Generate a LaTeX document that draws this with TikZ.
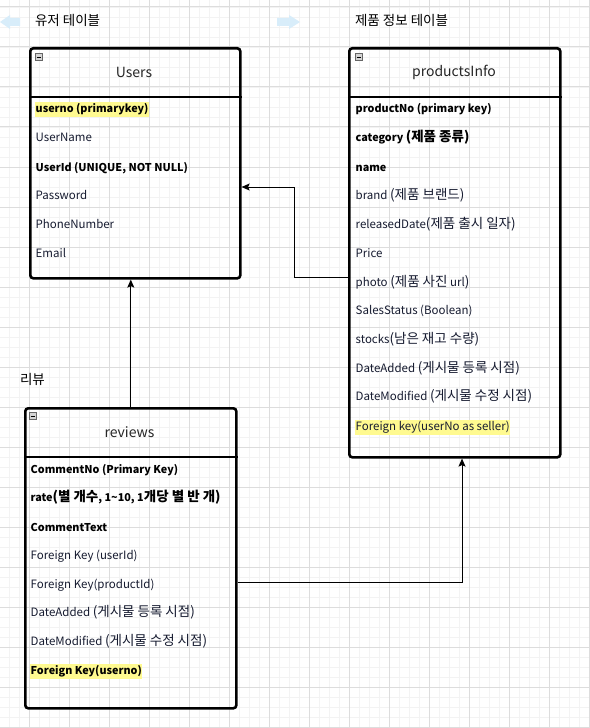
\documentclass[tikz,border=0pt]{standalone}
\usepackage{fontspec}
\setmainfont{Noto Sans CJK KR}
\usetikzlibrary{arrows.meta}
\definecolor{gridminor}{HTML}{F3F3F3}
\definecolor{gridmajor}{HTML}{DDDDDD}
\definecolor{hl}{HTML}{FFFA90}
\definecolor{rowtext}{HTML}{161B30}
\definecolor{hint}{HTML}{D8EDFA}
\definecolor{icongray}{HTML}{D4D4D4}
\newcommand\kr[1]{{\fontsize{13.5bp}{14bp}\selectfont #1}}
\tikzset{
  tbl/.style={draw=black, line width=2.6bp, rounded corners=3bp, inner sep=0pt, anchor=north west},
  sepline/.style={line width=2bp},
  rowtxt/.style={anchor=west, inner xsep=0.5bp, inner ysep=2bp, text height=8.5bp, text depth=2.5bp, font=\fontsize{11.5bp}{12bp}\selectfont, text=rowtext},
  rowbold/.style={rowtxt, font=\fontsize{10.8bp}{12bp}\selectfont\bfseries, text=black},
  hlrow/.style={fill=hl},
  title/.style={font=\fontsize{14bp}{15bp}\selectfont, text=black!85},
  caption/.style={anchor=west, font=\fontsize{13.5bp}{15bp}\selectfont, text=black},
  icon/.style={draw=gray!80!black, fill=icongray, line width=0.6bp, minimum size=7bp, inner sep=0pt},
  link/.style={line width=1bp, -{Stealth[length=8bp,width=7bp,inset=1.5bp]}},
}
\begin{document}
\begin{tikzpicture}[x=1bp,y=-1bp]
\useasboundingbox (0,0) rectangle (590,728);
\fill[white] (0,0) rectangle (590,728);
% grid
\foreach \gx in {9,19,...,589} \draw[gridminor, line width=0.8bp] (\gx,0) -- (\gx,728);
\foreach \gy in {7,17,...,727} \draw[gridminor, line width=0.8bp] (0,\gy) -- (590,\gy);
\foreach \gx in {29,69,...,589} \draw[gridmajor, line width=1bp] (\gx,0) -- (\gx,728);
\foreach \gy in {7,47,...,727} \draw[gridmajor, line width=1bp] (0,\gy) -- (590,\gy);

% faint hint arrows
\fill[hint] (0,22) -- (10,15) -- (10,18) -- (20,18) -- (20,26) -- (10,26) -- (10,29) -- cycle;
\fill[hint] (300,22) -- (289,15) -- (289,18) -- (277,18) -- (277,26) -- (289,26) -- (289,29) -- cycle;

% captions
\node[caption] (capusers) at (31.5,20) {유저 테이블};
\node[caption] (capprod) at (351.5,20) {제품 정보 테이블};
\node[caption] (caprev) at (16.5,379) {리뷰};

% ---------- Users ----------
\node[tbl, minimum width=210bp, minimum height=230bp] (users) at (29,47) {};
\draw[sepline] (users.west |- 0,97) -- (users.east |- 0,97);
\node[icon] (uicon) at (39,57) {};
\draw[line width=0.8bp] ([xshift=1.5bp]uicon.west) -- ([xshift=-1.5bp]uicon.east);
\node[title] (utitle) at (134,72) {Users};
\node[rowbold, hlrow] (u1) at (35,110) {userno (primarykey)};
\node[rowtxt] (u2) at (35,139) {UserName};
\node[rowbold] (u3) at (35,168) {UserId (UNIQUE, NOT NULL)};
\node[rowtxt] (u4) at (35,196) {Password};
\node[rowtxt] (u5) at (35,225) {PhoneNumber};
\node[rowtxt] (u6) at (35,254) {Email};

% ---------- productsInfo ----------
\node[tbl, minimum width=211bp, minimum height=409bp] (prod) at (348,47) {};
\draw[sepline] (prod.west |- 0,97) -- (prod.east |- 0,97);
\node[icon] (picon) at (359,57) {};
\draw[line width=0.8bp] ([xshift=1.5bp]picon.west) -- ([xshift=-1.5bp]picon.east);
\node[title] (ptitle) at (454,72) {productsInfo};
\node[rowbold] (p1) at (355,110) {productNo (primary key)};
\node[rowbold] (p2) at (355,139) {category \kr{(제품 종류)}};
\node[rowbold] (p3) at (355,168) {name};
\node[rowtxt] (p4) at (355,196) {brand \kr{(제품 브랜드)}};
\node[rowtxt] (p5) at (355,225) {releasedDate\kr{(제품 출시 일자)}};
\node[rowtxt] (p6) at (355,254) {Price};
\node[rowtxt] (p7) at (355,283) {photo \kr{(제품 사진} url\kr{)}};
\node[rowtxt] (p8) at (355,311) {SalesStatus (Boolean)};
\node[rowtxt] (p9) at (355,340) {stocks\kr{(남은 재고 수량)}};
\node[rowtxt] (p10) at (355,369) {DateAdded \kr{(게시물 등록 시점)}};
\node[rowtxt] (p11) at (355,397) {DateModified \kr{(게시물 수정 시점)}};
\node[rowtxt, hlrow] (p12) at (355,427) {Foreign key(userNo as seller)};

% ---------- reviews ----------
\node[tbl, minimum width=211bp, minimum height=300bp] (rev) at (24,407) {};
\draw[sepline] (rev.west |- 0,457) -- (rev.east |- 0,457);
\node[icon] (ricon) at (33,416) {};
\draw[line width=0.8bp] ([xshift=1.5bp]ricon.west) -- ([xshift=-1.5bp]ricon.east);
\node[title] (rtitle) at (129.5,432) {reviews};
\node[rowbold] (r1) at (30,470) {CommentNo (Primary Key)};
\node[rowbold] (r2) at (30,498) {rate\kr{(별 개수}, 1\textasciitilde 10, 1\kr{개당 별 반 개)}};
\node[rowbold] (r3) at (30,528) {CommentText};
\node[rowtxt] (r4) at (30,556) {Foreign Key (userId)};
\node[rowtxt] (r5) at (30,585) {Foreign Key(productId)};
\node[rowtxt] (r6) at (30,613) {DateAdded \kr{(게시물 등록 시점)}};
\node[rowtxt] (r7) at (30,642) {DateModified \kr{(게시물 수정 시점)}};
\node[rowbold, hlrow] (r8) at (30,671) {Foreign Key(userno)};

% ---------- connectors ----------
\coordinate (k1) at (294,277);
\coordinate (k2) at (294,187);
\draw[link] (prod.west |- k1) -- (k1) -- (k2) -- (users.east |- k2);
\draw[link] (rev.north) -- (rev.north |- users.south);
\coordinate (k3) at (462,582);
\draw[link] (rev.east |- k3) -- (k3) -- (k3 |- prod.south);
\end{tikzpicture}
\end{document}
